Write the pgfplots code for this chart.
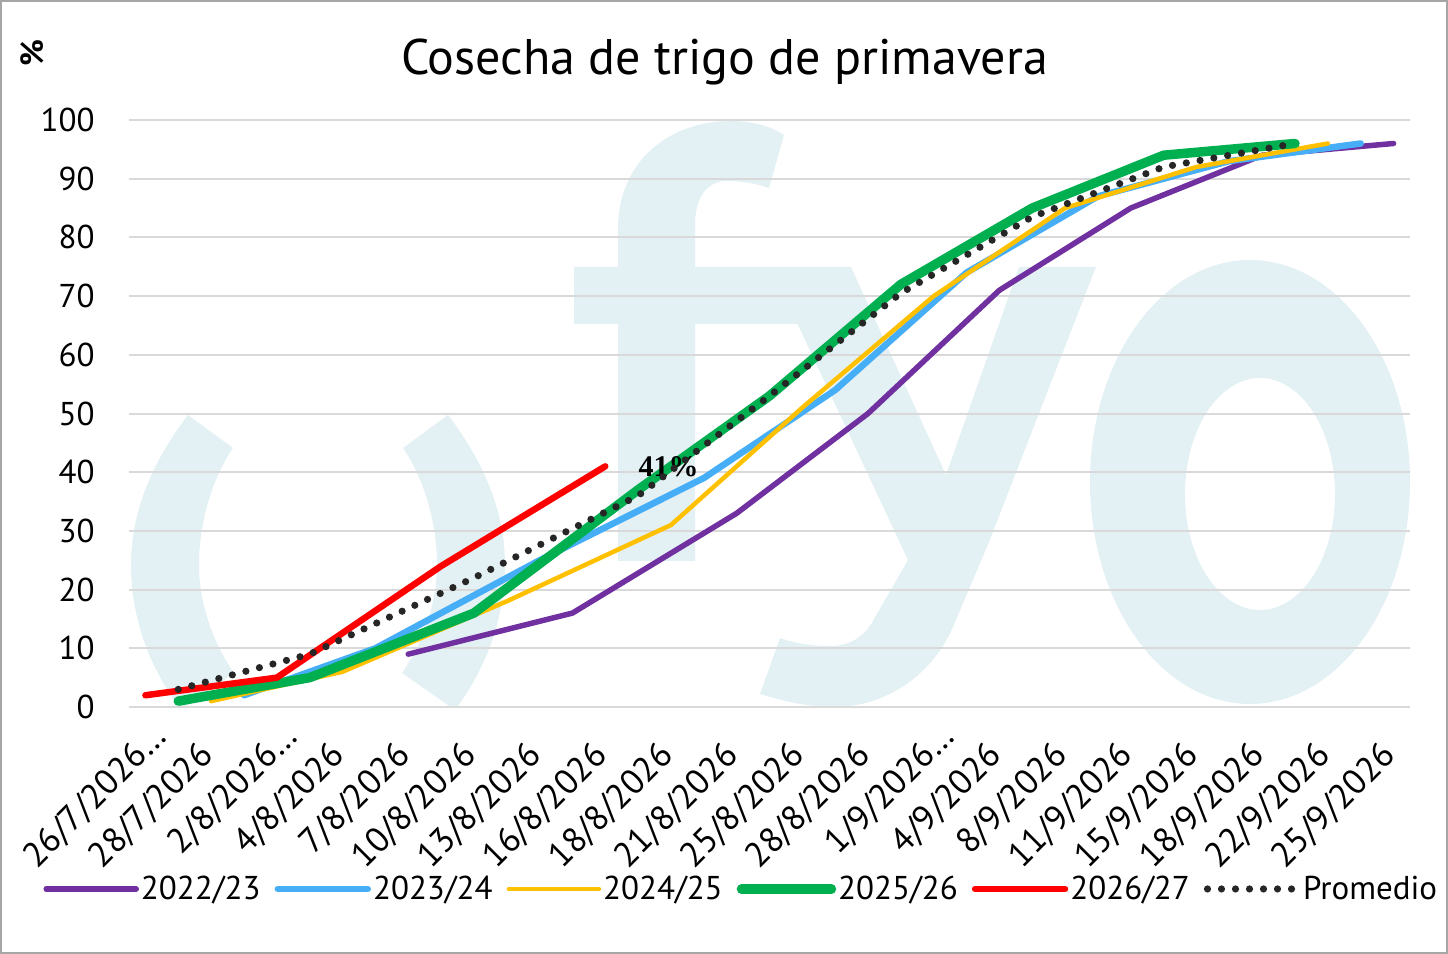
\documentclass[border=0pt]{standalone}
\usepackage{pgfplots}
\pgfplotsset{compat=1.18}
\usepackage{fontspec}
\setmainfont{PT Sans}
\newfontfamily\lblfont{Liberation Serif}
\definecolor{c22}{HTML}{7030A0}
\definecolor{c23}{HTML}{46AEF7}
\definecolor{c24}{HTML}{FFC000}
\definecolor{c25}{HTML}{00B050}
\definecolor{c26}{HTML}{FF0000}
\definecolor{cavg}{HTML}{262626}
\definecolor{wm}{HTML}{E3F0F4}
\definecolor{gridc}{HTML}{D9D9D9}
\definecolor{framec}{HTML}{A6A6A6}
\begin{document}
\begin{tikzpicture}
\path[use as bounding box] (-64.5pt,-123.5pt) rectangle (659.5pt,353.5pt);
% watermark (logo) in pixel units of the reference
\begin{scope}[x=0.5pt,y=-0.5pt,shift={(-64.5pt,353.5pt)}]
\clip (129,100) rectangle (1410,707);
\fill[wm] (448,415) .. controls (490,470) and (505,520) .. (505,565) .. controls (505,620) and (485,670) .. (455,710) -- (402,673) .. controls (425,640) and (437,600) .. (437,565) .. controls (437,525) and (425,480) .. (403,448) -- cycle;
\fill[wm] (188,415) .. controls (146,470) and (131,520) .. (131,565) .. controls (131,620) and (151,670) .. (181,710) -- (234,673) .. controls (211,640) and (199,600) .. (199,565) .. controls (199,525) and (211,480) .. (233,448) -- cycle;
\fill[wm] (574,267) -- (618,267) -- (618,225) .. controls (620,160) and (670,121) .. (731,121) .. controls (752,121) and (770,126) .. (784,135) -- (769,188) .. controls (755,183) and (740,181) .. (724,181) .. controls (705,183) and (695,200) .. (695,225) -- (695,267) -- (851,267) -- (946,475) -- (1019,267) -- (1096,267) -- (989,542) -- (953,627) .. controls (930,680) and (880,707) .. (835,707) .. controls (805,707) and (780,700) .. (760,694) -- (780,638) .. controls (800,645) and (815,646) .. (835,646) .. controls (855,644) and (868,632) .. (874,619) -- (908,560) -- (797.5,324) -- (695,324) -- (695,561) -- (618,561) -- (618,324) -- (574,324) -- cycle;
\fill[wm, even odd rule] (1250,482) ellipse [x radius=160, y radius=222] (1260,494) ellipse [x radius=75, y radius=116];
\end{scope}
\begin{axis}[
  at={(0,0)}, anchor=south west,
  scale only axis, width=640.5pt, height=293.5pt,
  xmin=-0.5, xmax=38.5, ymin=0, ymax=100,
  xtick={0,2,...,38},
  xticklabels={{26/7/2026\rlap{…}},28/7/2026,{2/8/2026\rlap{…}},4/8/2026,7/8/2026,10/8/2026,13/8/2026,16/8/2026,18/8/2026,21/8/2026,25/8/2026,28/8/2026,{1/9/2026\rlap{…}},4/9/2026,8/9/2026,11/9/2026,15/9/2026,18/9/2026,22/9/2026,25/9/2026},
  ytick={0,10,...,100},
  ymajorgrids, major grid style={gridc, line width=1pt},
  axis line style={draw=none},
  major tick style={draw=none},
  yticklabel style={font=\fontsize{16.5}{19}\selectfont, anchor=east, inner sep=0pt, xshift=-17pt},
  xticklabel style={font=\fontsize{17.5}{20}\selectfont, yshift=-16pt, xshift=-7pt, rotate=45, anchor=north east, inner sep=0pt},
  /pgf/number format/assume math mode=true,
  legend columns=6,
  legend style={at={(0.478,-0.31)}, anchor=center, draw=none, fill=none,
    font=\fontsize{16.5}{19}\selectfont,
    /tikz/column sep=0pt,
    /tikz/every even column/.append style={column sep=6pt},
    nodes={inner sep=1pt}},
  legend image code/.code={\draw[#1] (0pt,0pt) -- (45pt,0pt);},
  every axis plot/.append style={line cap=round, line join=round},
  clip=false,
]
\addplot[c22, line width=2.75pt] coordinates {(8,9) (13,16) (18,33) (22,50) (26,71) (30,85) (34,94) (38,96)};
\addlegendentry{2022/23}
\addplot[c23, line width=3.25pt] coordinates {(3,2) (7,10) (12,25) (17,39) (21,54) (25,74) (29,87) (33,93) (37,96)};
\addlegendentry{2023/24}
\addplot[c24, line width=2.25pt] coordinates {(2,1) (6,6) (11,18) (16,31) (20,51) (24,70) (28,85) (32,92) (36,96)};
\addlegendentry{2024/25}
\addplot[c25, line width=4.75pt] coordinates {(1,1) (5,5) (10,16) (15,37) (19,53) (23,72) (27,85) (31,94) (35,96)};
\addlegendentry{2025/26}
\addplot[c26, line width=3.25pt] coordinates {(0,2) (4,5) (9,24) (14,41)}
  node[pos=1, anchor=west, xshift=15pt, inner sep=0pt, text=black, font=\lblfont\bfseries\fontsize{15}{17}\selectfont] {41\%};
\addlegendentry{2026/27}
\addplot[cavg, line width=3.6pt, dash pattern=on 0pt off 7pt] coordinates {(1,3) (5,9) (10,22) (15,36) (19,53) (23,70.5) (27,83.5) (31,92) (35,96)};
\addlegendentry{Promedio}
\end{axis}
\node[font=\fontsize{25}{29}\selectfont] at (297.75pt,322.5pt) {Cosecha de trigo de primavera};
\node[rotate=90, font=\bfseries\fontsize{16}{19}\selectfont] at (-48.5pt,327pt) {\%};
\draw[framec, line width=1pt] (-64pt,-123pt) rectangle (659pt,353pt);
\end{tikzpicture}
\end{document}
